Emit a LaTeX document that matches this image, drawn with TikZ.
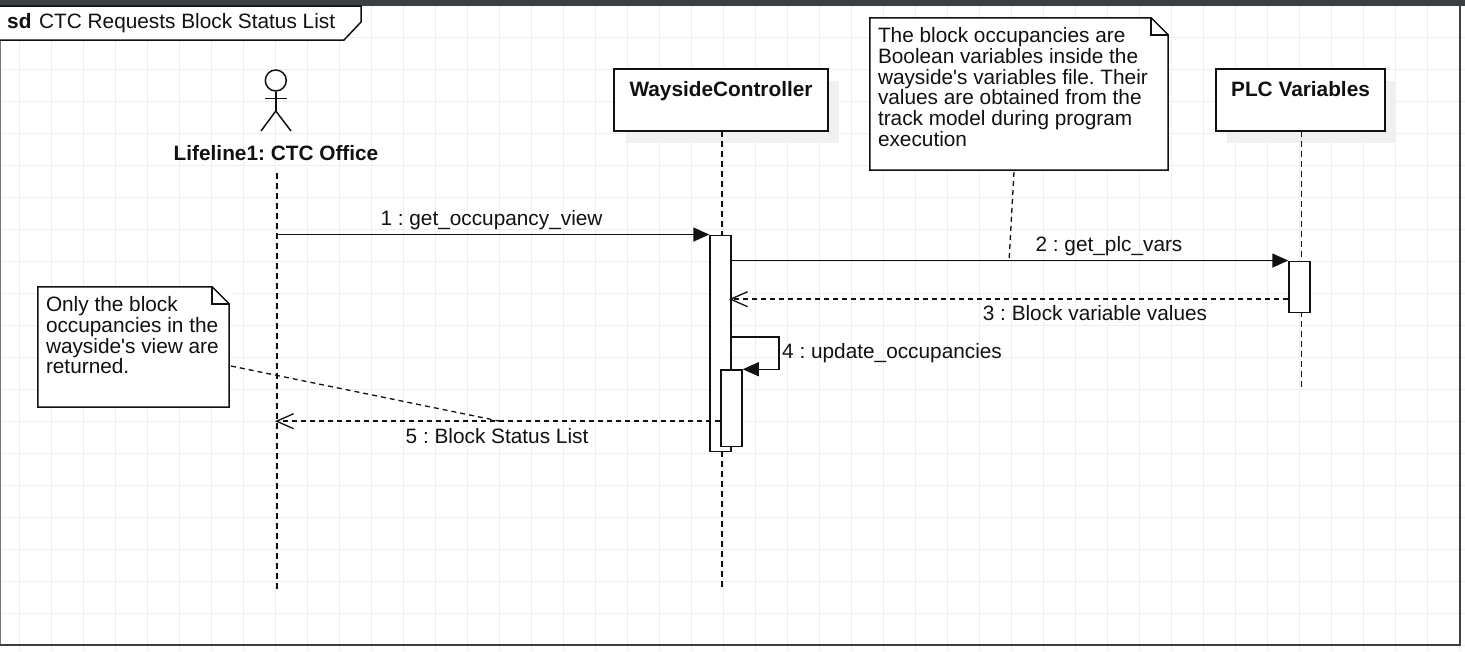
\documentclass[tikz,border=0pt]{standalone}
\usepackage{fontspec}
\setmainfont{Liberation Sans}
\usepackage{xcolor}
\usetikzlibrary{arrows.meta, positioning, calc}
\definecolor{inkdark}{HTML}{111111}
\definecolor{barcolor}{HTML}{3B3F42}
\definecolor{edgegray}{HTML}{777777}
\definecolor{gridgray}{HTML}{EFEFEF}
\definecolor{shadowgray}{HTML}{F0F0F0}
\tikzset{
  txt/.style={font=\fontsize{20.8}{20.9}\selectfont, text=inkdark, inner sep=0pt},
  boldtxt/.style={txt, font=\fontsize{20.8}{20.9}\selectfont\bfseries},
  lifebox/.style={rectangle, draw=inkdark, fill=white, line width=1.6pt, inner sep=0pt},
  boxshadow/.style={fill=shadowgray, draw=none, inner sep=0pt},
  actbar/.style={rectangle, draw=inkdark, fill=white, line width=1.5pt, inner sep=0pt, minimum width=21pt},
  lifeln/.style={dash pattern=on 6pt off 4pt, line width=1.5pt, color=inkdark},
  sync/.style={-{Triangle[length=16pt,width=14pt]}, line width=1.5pt, color=inkdark},
  reply/.style={-{Straight Barb[length=17pt,width=15pt,line width=1.3pt]}, dash pattern=on 5pt off 4pt, line width=1.5pt, color=inkdark},
  notebox/.style={rectangle, fill=white, inner sep=0pt},
  notetxt/.style={txt, align=left, anchor=north west},
  notelink/.style={dash pattern=on 5pt off 4pt, line width=1.3pt, color=inkdark},
  actorln/.style={line width=1.5pt, color=inkdark},
}
\newcommand{\notefold}[1]{%
  \fill[white] ($(#1.north east)+(-17,-1)$) -- ($(#1.north east)+(1,-1)$) -- ($(#1.north east)+(1,17)$) -- cycle;
  \draw[line width=1.5pt, color=inkdark, line join=miter]
    (#1.north west) -- ($(#1.north east)+(-17,0)$) -- ($(#1.north east)+(0,17)$) -- (#1.south east) -- (#1.south west) -- cycle;
  \draw[line width=1.5pt, color=inkdark]
    ($(#1.north east)+(-17,0)$) -- ($(#1.north east)+(-17,17)$) -- ($(#1.north east)+(0,17)$);}
\begin{document}
\frenchspacing
\begin{tikzpicture}[x=1pt, y=-1pt]
  \useasboundingbox (0,0) rectangle (1465,651);

  % ── Grid ─────────────────────────────────────────────────────────────────
  \foreach \gx in {19.5,51.5,...,1459.5} \draw[gridgray, line width=1pt] (\gx,0) -- (\gx,651);
  \foreach \gy in {5.5,37.5,...,645.5}   \draw[gridgray, line width=1pt] (0,\gy) -- (1465,\gy);

  % ── Frame ────────────────────────────────────────────────────────────────
  \draw[edgegray, line width=2pt] (0,5) -- (0,645);
  \draw[barcolor, line width=2pt] (1459.5,5) -- (1459.5,645) -- (0,645);
  \fill[barcolor] (0,0) rectangle (1465,5.5);
  \draw[inkdark, fill=white, line width=1.5pt] (-2,6) -- (361,6) -- (361,22) -- (344,40) -- (-2,40) -- cycle;
  \node[boldtxt, anchor=base west] (sdtag) at (7,28) {sd};
  \node[txt, anchor=base west] (sdname) at (39,28) {CTC Requests Block Status List};

  % ── Lifelines ────────────────────────────────────────────────────────────
  \node[boxshadow, minimum width=213pt, minimum height=62pt] (waysshadow) at (732,112) {};
  \node[boxshadow, minimum width=169pt, minimum height=62pt] (plcshadow)  at (1311.5,112) {};
  \node[lifebox, minimum width=214pt, minimum height=62pt] (ways) at (721,100) {};
  \node[lifebox, minimum width=169pt, minimum height=62pt] (plc)  at (1300.5,100) {};
  \node[boldtxt, anchor=base] (waystxt) at (721,96) {WaysideController};
  \node[boldtxt, anchor=base] (plctxt)  at (1300.5,96) {PLC Variables};
  \node[boldtxt, anchor=base] (ctc) at (276,160) {Lifeline1: CTC Office};

  \coordinate (ctctop) at (277.2,173);
  \coordinate (ctcend) at (277.2,591);
  \coordinate (waystop) at (722.2,131);
  \coordinate (waysend) at (722.2,590);
  \coordinate (plctop) at (1301.3,131);
  \coordinate (plcend) at (1301.3,388);
  \draw[lifeln] (ctctop)  -- (ctcend);
  \draw[lifeln] (waystop) -- (waysend);
  \draw[lifeln] (plctop)  -- (plcend);

  % ── Actor ────────────────────────────────────────────────────────────────
  \node[circle, draw=inkdark, line width=1.5pt, fill=white, minimum size=21pt, inner sep=0pt] (head) at (275.8,80.5) {};
  \coordinate (hip) at (275.8,111);
  \draw[actorln] (head.south) -- (hip);
  \draw[actorln] (264.5,98.5) -- (287,98.5);
  \draw[actorln] (261,131) -- (hip) -- (291,131);

  % ── Activations ──────────────────────────────────────────────────────────
  \node[actbar, minimum height=216pt] (waysact) at (720.5,343.3) {};
  \node[actbar, minimum height=76.5pt] (selfact) at (731.5,408.25) {};
  \node[actbar, minimum height=51pt] (plcact) at (1299.5,286.8) {};

  % ── Notes ────────────────────────────────────────────────────────────────
  \node[notebox, minimum width=298pt, minimum height=152pt] (plcnote) at (1019,94) {};
  \notefold{plcnote}
  \node[notetxt] (plcnotetxt) at ($(plcnote.north west)+(8,9.2)$) {The block occupancies are\\Boolean variables inside the\\wayside\textquotesingle s variables file. Their\\values are obtained from the\\track model during program\\execution};
  \node[notebox, minimum width=191pt, minimum height=120pt] (viewnote) at (133.5,347) {};
  \notefold{viewnote}
  \node[notetxt] (viewnotetxt) at ($(viewnote.north west)+(8,9.2)$) {Only the block\\occupancies in the\\wayside\textquotesingle s view are\\returned.};

  % ── Messages ─────────────────────────────────────────────────────────────
  \coordinate (rplA) at (plcact.west |- 0,299.2);
  \coordinate (rplB) at (729,299.2);
  \coordinate (rtnA) at (selfact.west |- 0,421.2);
  \coordinate (rtnB) at (275,421.2);
  \coordinate (loopA) at (waysact.east |- 0,337.2);
  \coordinate (loopB) at (779,337.2);
  \coordinate (rtnmid) at (500,421.2);
  \coordinate (plcmid) at (1009,261.3);

  \draw[sync] (ctctop |- waysact.north) -- (waysact.north west);
  \draw[sync] (waysact.north east |- plcact.north) -- (plcact.north west);
  \draw[reply] (rplA) -- (rplB);
  \draw[sync] (loopA) -- (loopB) -- (loopB |- selfact.north) -- (selfact.north east);
  \draw[reply] (rtnA) -- (rtnB);

  \draw[notelink] (1014,172) -- (plcmid);
  \draw[notelink] (231,366) -- (rtnmid);

  % ── Message labels ───────────────────────────────────────────────────────
  \node[txt, anchor=base] (msgone)   at (491.5,225) {1 : get\_occupancy\_view};
  \node[txt, anchor=base] (msgtwo)   at (1109,251)  {2 : get\_plc\_vars};
  \node[txt, anchor=base] (msgthree) at (1095,320)  {3 : Block variable values};
  \node[txt, anchor=base west] (msgfour) at (782,358) {4 : update\_occupancies};
  \node[txt, anchor=base] (msgfive)  at (497,443)   {5 : Block Status List};
\end{tikzpicture}
\end{document}
